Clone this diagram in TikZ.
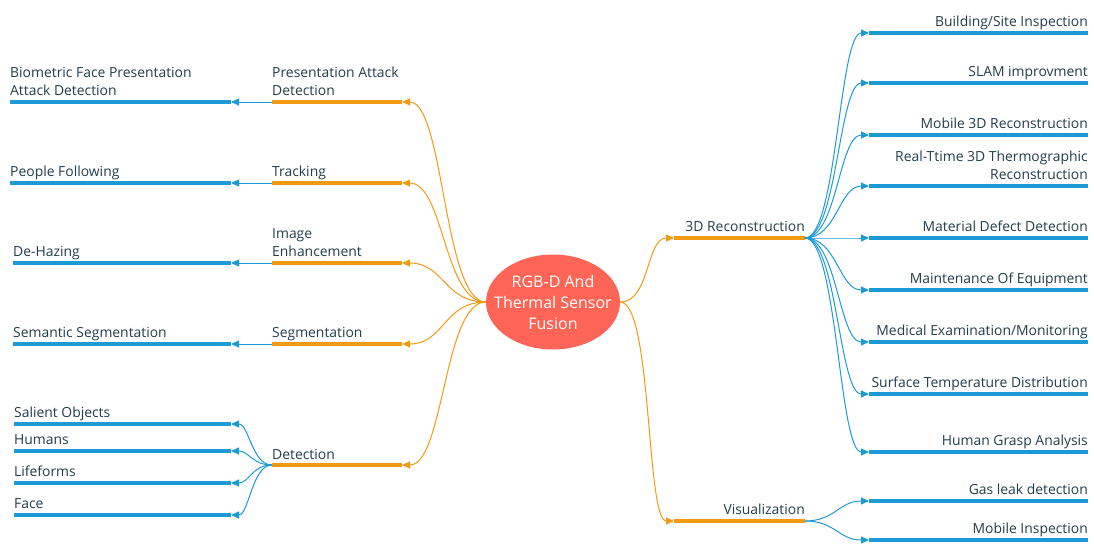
\documentclass[tikz,border=0pt]{standalone}
\usepackage{fontspec}
\setmainfont{Open Sans}
\usetikzlibrary{arrows.meta,shapes.geometric}
\definecolor{orng}{HTML}{F29A12}
\definecolor{blu}{HTML}{1C9AD6}
\definecolor{txt}{HTML}{223D4C}
\definecolor{core}{HTML}{FF6557}
\tikzset{
  obar/.style={draw=orng, line width=4pt, line cap=butt},
  bbar/.style={draw=blu, line width=4pt, line cap=butt},
  ocon/.style={draw=orng, line width=1pt, -{Triangle[length=8pt,width=7pt]}},
  bcon/.style={draw=blu, line width=1pt, -{Triangle[length=8pt,width=7pt]}},
  lbl/.style={inner sep=0pt, text depth=0pt, text=txt, font=\fontsize{13.9}{18}\selectfont, align=left, anchor=south west, yshift=-1pt},
  rlbl/.style={lbl, align=right, anchor=south east},
  corenode/.style={ellipse, fill=core, minimum width=134pt, minimum height=95pt, inner sep=0pt},
  coretext/.style={inner sep=0pt, text=white, align=center, font=\fontsize{16}{21}\selectfont}
}
\begin{document}
\begin{tikzpicture}[x=1pt,y=-1pt]
\useasboundingbox (0,0) rectangle (1094,543);
\node[corenode] (C) at (553,302) {};
\node[coretext] (Ct) at (C.center) {RGB-D And\\Thermal Sensor\\Fusion};

% left orange bars
\foreach \n/\y in {pa/102,tr/183,ie/263,sg/344,de/465}{
  \coordinate (\n a) at (272,\y);
  \coordinate (\n b) at (402,\y);
  \draw[obar] (\n a) -- (\n b);
}
\node[lbl] (Lpa) at (272,95) {Presentation Attack\\Detection};
\node[lbl] (Ltr) at (272,176) {Tracking};
\node[lbl] (Lie) at (272,256) {Image\\Enhancement};
\node[lbl] (Lsg) at (272,337) {Segmentation};
\node[lbl] (Lde) at (272,459) {Detection};
\foreach \n in {pa,tr,ie,sg,de}{
  \draw[ocon] (C.west) .. controls +(-42,0) and +(42,0) .. (\n b);
}

% left blue bars
\foreach \n/\x/\y in {bf/10/102,pf/10/183,dh/13/263,ss/13/344,so/14/424,hu/14/451,lf/14/483,fa/14/515}{
  \coordinate (\n a) at (\x,\y);
  \coordinate (\n b) at (231,\y);
  \draw[bbar] (\n a) -- (\n b);
}
\node[lbl] (Lbf) at (10,95) {Biometric Face Presentation\\Attack Detection};
\node[lbl] (Lpf) at (10,176) {People Following};
\node[lbl] (Ldh) at (13,256) {De-Hazing};
\node[lbl] (Lss) at (13,337) {Semantic Segmentation};
\node[lbl] (Lso) at (14,417) {Salient Objects};
\node[lbl] (Lhu) at (14,444) {Humans};
\node[lbl] (Llf) at (14,476) {Lifeforms};
\node[lbl] (Lfa) at (14,508) {Face};
\draw[bcon] (paa) -- (bfb);
\draw[bcon] (tra) -- (pfb);
\draw[bcon] (iea) -- (dhb);
\draw[bcon] (sga) -- (ssb);
\foreach \n in {so,hu,lf,fa}{
  \draw[bcon] (dea) .. controls +(-20,0) and +(18,0) .. (\n b);
}

% right orange bars
\coordinate (r3a) at (674,238); \coordinate (r3b) at (805,238);
\coordinate (rva) at (674,521); \coordinate (rvb) at (805,521);
\draw[obar] (r3a) -- (r3b);
\draw[obar] (rva) -- (rvb);
\node[rlbl] (L3d) at (805,231) {3D Reconstruction};
\node[rlbl] (Lvi) at (805,514) {Visualization};
\draw[ocon] (C.east) .. controls +(30,0) and +(-28,0) .. (r3a);
\draw[ocon] (C.east) .. controls +(32,0) and +(-28,0) .. (rva);

% right blue bars
\foreach \n/\y in {bs/33,sl/83,mr/135,rt/186,md/238,me/290,mx/342,st/394,hg/452,gl/501,mi/540}{
  \coordinate (\n a) at (869,\y);
  \coordinate (\n b) at (1088,\y);
  \draw[bbar] (\n a) -- (\n b);
}
\node[rlbl] (Rbs) at (1088,26) {Building/Site Inspection};
\node[rlbl] (Rsl) at (1088,76) {SLAM improvment};
\node[rlbl] (Rmr) at (1088,128) {Mobile 3D Reconstruction};
\node[rlbl] (Rrt) at (1088,179) {Real-Ttime 3D Thermographic\\Reconstruction};
\node[rlbl] (Rmd) at (1088,231) {Material Defect Detection};
\node[rlbl] (Rme) at (1088,283) {Maintenance Of Equipment};
\node[rlbl] (Rmx) at (1088,335) {Medical Examination/Monitoring};
\node[rlbl] (Rst) at (1088,387) {Surface Temperature Distribution};
\node[rlbl] (Rhg) at (1088,445) {Human Grasp Analysis};
\node[rlbl] (Rgl) at (1088,494) {Gas leak detection};
\node[rlbl] (Rmi) at (1088,533) {Mobile Inspection};
\foreach \n in {bs,sl,mr,rt,md,me,mx,st,hg}{
  \draw[bcon] (r3b) .. controls +(32,0) and +(-30,0) .. (\n a);
}
\draw[bcon] (rvb) .. controls +(30,0) and +(-30,0) .. (gla);
\draw[bcon] (rvb) .. controls +(30,0) and +(-30,0) .. (mia);
\end{tikzpicture}
\end{document}
